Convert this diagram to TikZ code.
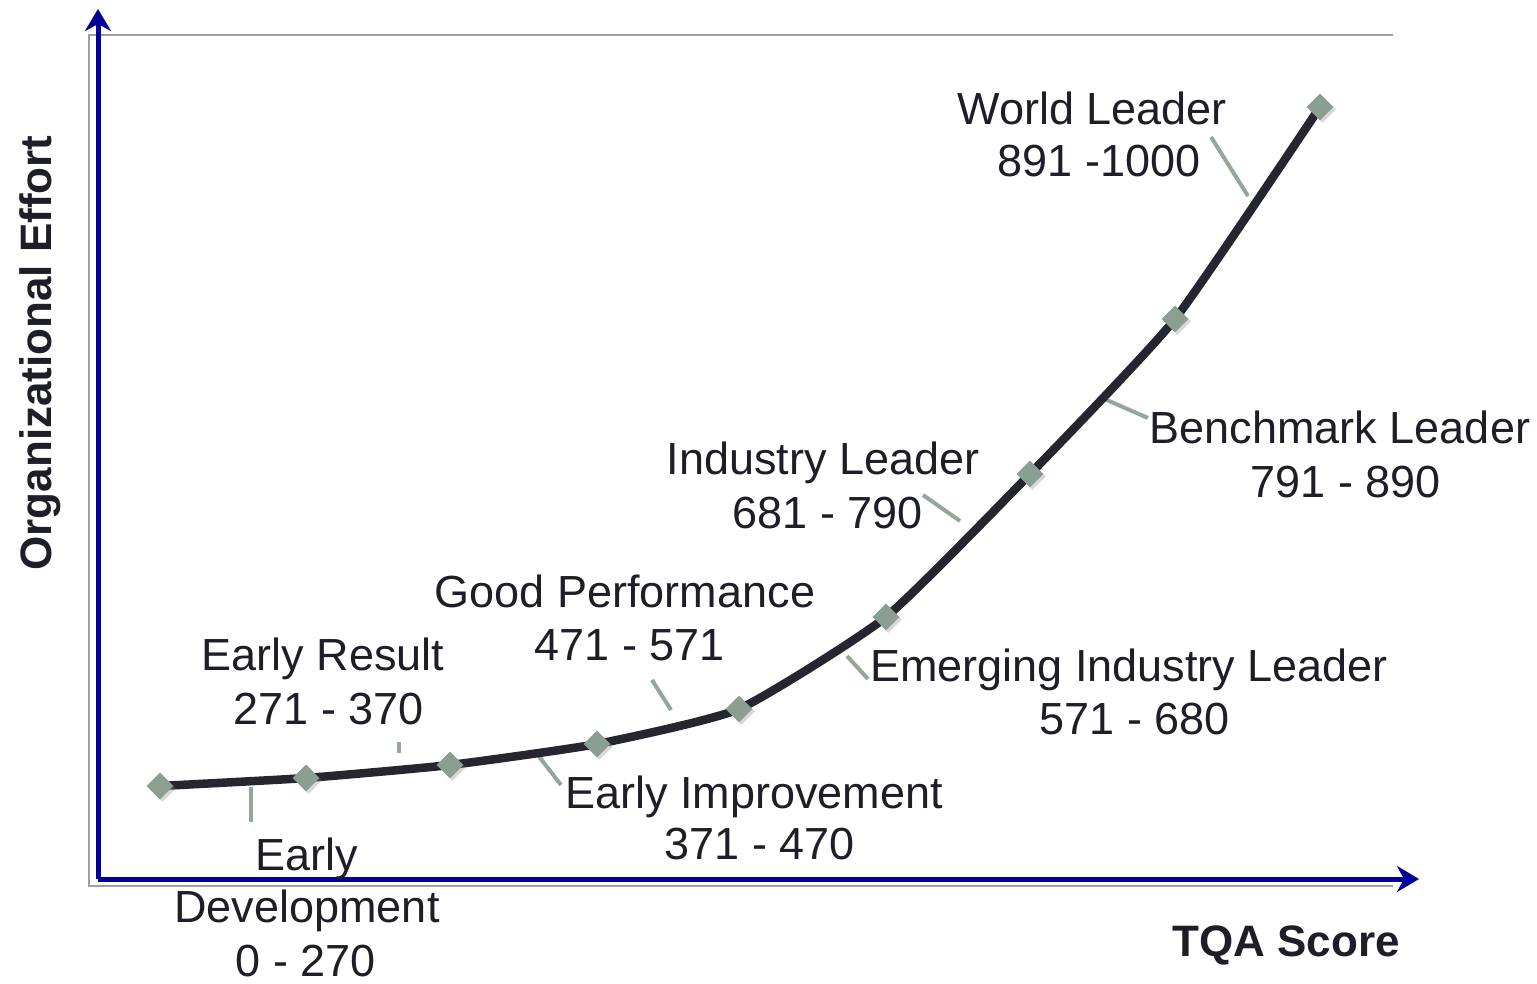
\documentclass[tikz,border=0pt]{standalone}
\usepackage{fontspec}
\setmainfont{Liberation Sans}
\usetikzlibrary{shapes.geometric,arrows.meta,shadows}
\definecolor{txt}{HTML}{1E1E28}
\definecolor{axisblue}{HTML}{000096}
\definecolor{curvec}{HTML}{262630}
\definecolor{mkc}{HTML}{8A9E91}
\definecolor{leadc}{HTML}{93A89A}
\definecolor{framec}{HTML}{A0A0A0}
\begin{document}
\begin{tikzpicture}[x=1pt,y=-1pt,
  lbl/.style={font=\fontsize{45}{54}\selectfont, text=txt, inner sep=0pt, anchor=base},
  axlbl/.style={font=\fontsize{44}{52}\selectfont\bfseries, text=txt, inner sep=0pt, anchor=base},
  mk/.style={diamond, fill=mkc, minimum size=27pt, inner sep=0pt,
    drop shadow={shadow xshift=2.5pt, shadow yshift=-2.5pt, opacity=0.3, fill=gray}},
  curve/.style={draw=curvec, line width=8.5pt, line join=round, line cap=round},
  leader/.style={draw=leadc, line width=4pt},
  axis/.style={draw=axisblue, line width=5pt, -{Stealth[length=22pt, width=26pt, inset=7pt]}},
  frame/.style={draw=framec, line width=1.6pt}]
\useasboundingbox (0,0) rectangle (1537,984);
\fill[white] (0,0) rectangle (1537,984);
% frame lines
\coordinate (fa) at (89,886);
\coordinate (fb) at (89,35);
\coordinate (fc) at (1393,35);
\coordinate (fd) at (1393,886);
\draw[frame] (fd) -- (fa) -- (fb) -- (fc);
% axes
\coordinate (o) at (98,879);
\coordinate (ytip) at (98,9);
\coordinate (xtip) at (1419,879);
\draw[axis] (o) -- (ytip);
\draw[axis] (o) -- (xtip);
% data points
\coordinate (p1) at (160,786);
\coordinate (p2) at (306,778);
\coordinate (p3) at (450,765);
\coordinate (p4) at (597,744);
\coordinate (p5) at (739,709);
\coordinate (p6) at (886,617);
\coordinate (p7) at (1030,474);
\coordinate (p8) at (1175,319);
\coordinate (p9) at (1320,107);
% leader lines
\coordinate (l1a) at (251,787); \coordinate (l1b) at (251,822);
\coordinate (l2a) at (399,742); \coordinate (l2b) at (399,753);
\coordinate (l3a) at (537,754); \coordinate (l3b) at (561,785);
\coordinate (l4a) at (652,680); \coordinate (l4b) at (671,710);
\coordinate (l5a) at (847,656); \coordinate (l5b) at (868,679);
\coordinate (l6a) at (923,495); \coordinate (l6b) at (960,521);
\coordinate (l7a) at (1100,397); \coordinate (l7b) at (1148,418);
\coordinate (l8a) at (1211,137); \coordinate (l8b) at (1248,196);
\draw[leader] (l1a) -- (l1b);
\draw[leader] (l2a) -- (l2b);
\draw[leader] (l3a) -- (l3b);
\draw[leader] (l4a) -- (l4b);
\draw[leader] (l5a) -- (l5b);
\draw[leader] (l6a) -- (l6b);
\draw[leader] (l7a) -- (l7b);
\draw[leader] (l8a) -- (l8b);
% curve
\draw[curve] plot[smooth, tension=0.3] coordinates {(p1) (p2) (p3) (p4) (p5) (p6) (p7) (p8) (p9)};
% markers
\foreach \i in {1,...,9} { \node[mk] (m\i) at (p\i) {}; }
% labels
\node[lbl] (wl1) at (1092,125) {World Leader};
\node[lbl] (wl2) at (1099,177) {891 -1000};
\node[lbl] (bl1) at (1340,443) {Benchmark Leader};
\node[lbl] (bl2) at (1346,497) {791 - 890};
\node[lbl] (il1) at (823,474) {Industry Leader};
\node[lbl] (il2) at (828,528) {681 - 790};
\node[lbl] (gp1) at (625,607) {Good Performance};
\node[lbl] (gp2) at (630,660) {471 - 571};
\node[lbl] (ei1) at (1129,681) {Emerging Industry Leader};
\node[lbl] (ei2) at (1135,734) {571 - 680};
\node[lbl] (er1) at (323,670) {Early Result};
\node[lbl] (er2) at (329,724) {271 - 370};
\node[lbl] (eim1) at (754,808) {Early Improvement};
\node[lbl] (eim2) at (760,859) {371 - 470};
\node[lbl] (ed1) at (307,870) {Early};
\node[lbl] (ed2) at (307,922) {Development};
\node[lbl] (ed3) at (306,976) {0 - 270};
% axis titles
\node[axlbl, rotate=90] (ylab) at (51,353) {Organizational Effort};
\node[axlbl] (xlab) at (1286,956) {TQA Score};
\end{tikzpicture}
\end{document}
